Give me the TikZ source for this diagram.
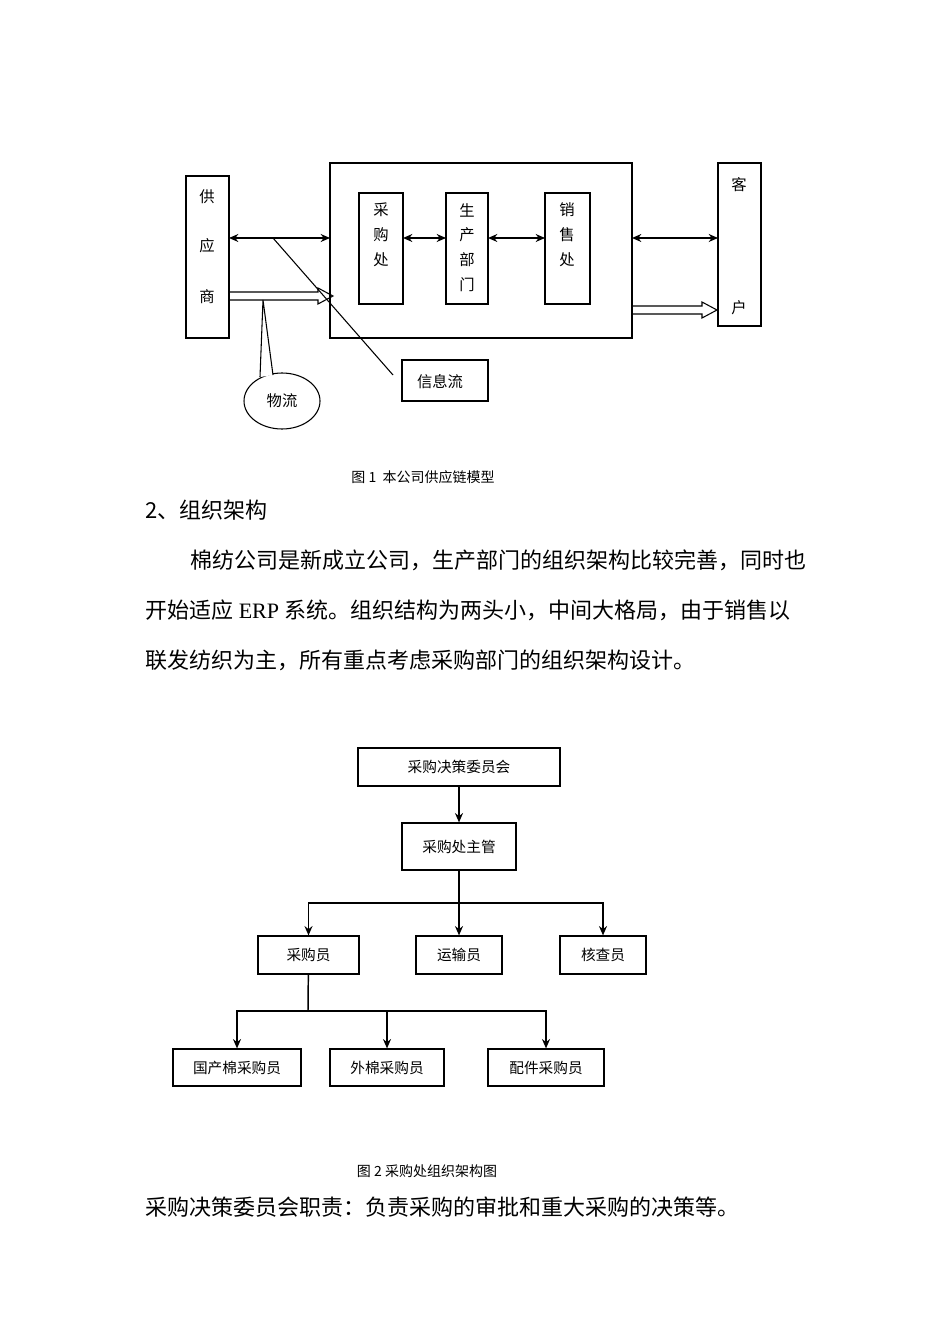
\documentclass[tikz,border=0pt]{standalone}
\usepackage{fontspec}
\setmainfont{Liberation Serif}
\newfontfamily\cjk{Noto Sans CJK SC}
\usetikzlibrary{arrows.meta,shapes.geometric}
\begin{document}
\begin{tikzpicture}[x=0.75pt,y=-0.75pt,
  box/.style={draw,line width=0.9pt,inner sep=0pt},
  lbl/.style={font=\cjk\fontsize{11.5}{12}\selectfont,inner sep=0pt},
  org/.style={draw,line width=0.9pt,inner sep=0pt,font=\cjk\fontsize{11}{12}\selectfont},
  dbl/.style={line width=1.1pt,{Stealth[length=7pt,width=6pt]}-{Stealth[length=7pt,width=6pt]}},
  ar/.style={line width=1.1pt,-{Stealth[length=7pt,width=6pt]}},
  body/.style={font=\cjk\fontsize{16.5}{18}\selectfont,anchor=west,inner sep=0pt},
  capt/.style={font=\cjk\fontsize{10.5}{12}\selectfont,inner sep=0pt}]
\useasboundingbox (0,0) rectangle (950,1344);
% ---- figure 1 ----
\node[box,minimum width=43*0.75pt,minimum height=162*0.75pt] (sup) at (207.5,257) {};
\node[lbl] at (207,197) {供};
\node[lbl] at (207,246) {应};
\node[lbl] at (207,297) {商};
\node[box,minimum width=302*0.75pt,minimum height=175*0.75pt] (big) at (481,250.5) {};
\node[box,minimum width=44*0.75pt,minimum height=111*0.75pt] (cg) at (381,248.5) {};
\node[lbl] at (381,210) {采}; \node[lbl] at (381,235) {购}; \node[lbl] at (381,260) {处};
\node[box,minimum width=42*0.75pt,minimum height=111*0.75pt] (sc) at (467,248.5) {};
\node[lbl] at (467,210) {生}; \node[lbl] at (467,235) {产}; \node[lbl] at (467,260) {部}; \node[lbl] at (467,285) {门};
\node[box,minimum width=45*0.75pt,minimum height=111*0.75pt] (xs) at (567.5,248.5) {};
\node[lbl] at (567,210) {销}; \node[lbl] at (567,235) {售}; \node[lbl] at (567,260) {处};
\node[box,minimum width=43*0.75pt,minimum height=163*0.75pt] (kh) at (739.5,244.5) {};
\node[lbl] at (739,185) {客}; \node[lbl] at (739,308) {户};
\draw[dbl] (229,238) -- (330,238);
\draw[dbl] (403,238) -- (446,238);
\draw[dbl] (488,238) -- (545,238);
\draw[dbl] (632,238) -- (718,238);
\draw[line width=0.8pt] (229,292) -- (318,292) -- (318,288) -- (333,296) -- (318,304) -- (318,300) -- (229,300);
\draw[line width=0.8pt] (632,306) -- (702,306) -- (702,302) -- (717,310) -- (702,318) -- (702,314) -- (632,314);
\node[box,minimum width=86*0.75pt,minimum height=41*0.75pt] (xx) at (445,380.5) {};
\node[lbl] at (440,382) {信息流};
\coordinate (p1) at (273,238);
\draw[line width=0.8pt] (p1) -- (393,375);
\node[draw,ellipse,line width=0.8pt,minimum width=76*0.75pt,minimum height=56*0.75pt,inner sep=0pt,font=\cjk\fontsize{11.5}{12}\selectfont] (wl) at (282,401) {物流};
\coordinate (p2) at (263,300);
\draw[line width=0.8pt,fill=white] (260,377) -- (p2) -- (273,375);
\node[capt] at (423,477) {图 1\ \ 本公司供应链模型};
% ---- text ----
\node[body] at (145,510) {2、组织架构};
\node[body] at (190,560) {棉纺公司是新成立公司，生产部门的组织架构比较完善，同时也};
\node[body] at (145,610) {开始适应{\rmfamily\ ERP\ }系统。组织结构为两头小，中间大格局，由于销售以};
\node[body] at (145,660) {联发纺织为主，所有重点考虑采购部门的组织架构设计。};
% ---- figure 2 ----
\node[org,minimum width=202*0.75pt,minimum height=38*0.75pt] (a) at (459,767) {采购决策委员会};
\node[org,minimum width=114*0.75pt,minimum height=47*0.75pt] (b) at (459,846.5) {采购处主管};
\node[org,minimum width=101*0.75pt,minimum height=38*0.75pt] (c1) at (308.5,955) {采购员};
\node[org,minimum width=86*0.75pt,minimum height=38*0.75pt] (c2) at (459,955) {运输员};
\node[org,minimum width=86*0.75pt,minimum height=38*0.75pt] (c3) at (603,955) {核查员};
\node[org,minimum width=128*0.75pt,minimum height=37*0.75pt] (d1) at (237,1067.5) {国产棉采购员};
\node[org,minimum width=114*0.75pt,minimum height=37*0.75pt] (d2) at (387,1067.5) {外棉采购员};
\node[org,minimum width=116*0.75pt,minimum height=37*0.75pt] (d3) at (546,1067.5) {配件采购员};
\draw[ar] (a) -- (b);
\coordinate (j1) at (459,903);
\draw[line width=1.1pt] (b) -- (j1);
\draw[ar] (j1) -- (c2);
\draw[ar] (j1) -| (c1.north);
\draw[ar] (j1) -| (c3.north);
\coordinate (j2) at (308,1011);
\draw[line width=1.1pt] (c1) -- (j2);
\draw[ar] (j2) -| (d1.north);
\draw[ar] (j2) -| (d2.north);
\draw[ar] (j2) -| (d3.north);
\node[capt] at (427,1171) {图 2 采购处组织架构图};
\node[body] at (145,1207) {采购决策委员会职责：负责采购的审批和重大采购的决策等。};
\end{tikzpicture}
\end{document}
